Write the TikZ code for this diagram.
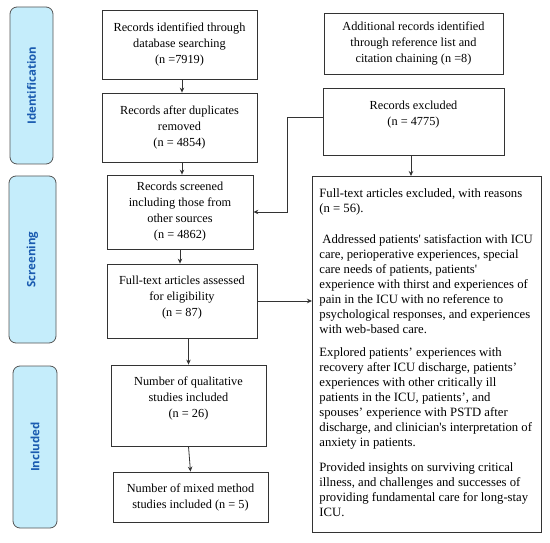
\documentclass[tikz,border=0pt]{standalone}
\usepackage{fontspec}
\setmainfont{Liberation Serif}
\newfontfamily\labfont{Open Sans}
\usetikzlibrary{arrows.meta,calc}
\definecolor{labfill}{HTML}{C5EDFB}
\definecolor{labtext}{HTML}{1A5BB0}
\definecolor{edge}{HTML}{333333}
\definecolor{labedge}{HTML}{555555}
\begin{document}
\begin{tikzpicture}[x=1pt,y=-1pt,
  box/.style={draw=edge, line width=0.8pt, align=center, inner sep=2pt,
    font=\rmfamily\fontsize{12.3}{16}\selectfont},
  lab/.style={draw=labedge, fill=labfill, rounded corners=7pt, line width=0.8pt,
    rotate=90, text=labtext, font=\labfont\bfseries\fontsize{11.5}{13}\selectfont},
  arr/.style={draw=edge, line width=0.8pt, -{Stealth[length=5pt,width=4.5pt]}}
]
\useasboundingbox (0,0) rectangle (550,543);
% stage labels
\node[lab, minimum width=157, minimum height=43] (lid) at (31.5,85.5) {Identification};
\node[lab, minimum width=167, minimum height=47] (lsc) at (32.5,259.5) {Screening};
\node[lab, minimum width=162, minimum height=44] (lin) at (35,447) {Included};
% left column
\node[box, minimum width=155, minimum height=69] (b1) at (179.5,44.5)
  {Records identified through\\database searching\\(n =7919)};
\node[box, minimum width=155, minimum height=69] (b2) at (179.5,127.5)
  {Records after duplicates\\removed\\(n = 4854)};
\node[box, minimum width=146, minimum height=74] (b3) at (180,212)
  {Records screened\\including those from\\other sources\\(n = 4862)};
\node[box, minimum width=150, minimum height=74] (b4) at (182,301)
  {Full-text articles assessed\\for eligibility\\(n = 87)\\[-6pt]\mbox{}};
\node[box, minimum width=155, minimum height=81] (b5) at (188.5,405.5)
  {Number of qualitative\\studies included\\(n = 26)\\\mbox{}};
\node[box, minimum width=155, minimum height=50] (b6) at (190.5,497)
  {Number of mixed method\\studies included (n = 5)};
% right column
\node[box, minimum width=179, minimum height=61] (add) at (413.5,43.5)
  {Additional records identified\\through reference list and\\citation chaining (n =8)};
\node[box, minimum width=181, minimum height=67] (excl) at (413.5,121.5)
  {Records excluded\\(n = 4775)\\\mbox{}};
\node[draw=edge, line width=0.8pt, inner xsep=7pt, inner ysep=0pt, anchor=north west,
  font=\rmfamily\fontsize{12.7}{15}\selectfont] (ft) at (312,176)
  {\parbox[c][356pt][t]{215pt}{\raggedright\vspace*{12pt}%
  Full-text articles excluded, with reasons\\
  (n = 56).\par\vspace{16pt}
  \hspace*{3pt}Addressed patients\textquotesingle{} satisfaction with ICU\\
  care, perioperative experiences, special\\
  care needs of patients, patients\textquotesingle\\
  experience with thirst and experiences of\\
  pain in the ICU with no reference to\\
  psychological responses, and experiences\\
  with web-based care.\par\vspace{8pt}
  Explored patients' experiences with\\
  recovery after ICU discharge, patients'\\
  experiences with other critically ill\\
  patients in the ICU, patients', and\\
  spouses' experience with PSTD after\\
  discharge, and clinician\textquotesingle{}s interpretation of\\
  anxiety in patients.\par\vspace{10pt}
  Provided insights on surviving critical\\
  illness, and challenges and successes of\\
  providing fundamental care for long-stay\\
  ICU.}};
% connectors
\draw[arr] ([xshift=2.5pt]b1.south) -- ([xshift=2.5pt]b1.south |- b2.north);
\draw[arr] ([xshift=2.5pt]b2.south) -- ([xshift=2.5pt]b2.south |- b3.north);
\coordinate (c1) at (287,117);
\draw[arr] (excl.west |- c1) -- (c1) |- (b3.east);
\draw[arr] ([xshift=-2.5pt]excl.south) -- ([xshift=-2.5pt]excl.south |- ft.north);
\draw[arr] (b3.south) -- (b3.south |- b4.north);
\draw[arr] (b4.east) -- (b4.east -| ft.west);
\draw[arr] (b5.north |- b4.south) -- (b5.north);
\draw[arr] (b5.south) -- (b6.north);
\end{tikzpicture}
\end{document}
